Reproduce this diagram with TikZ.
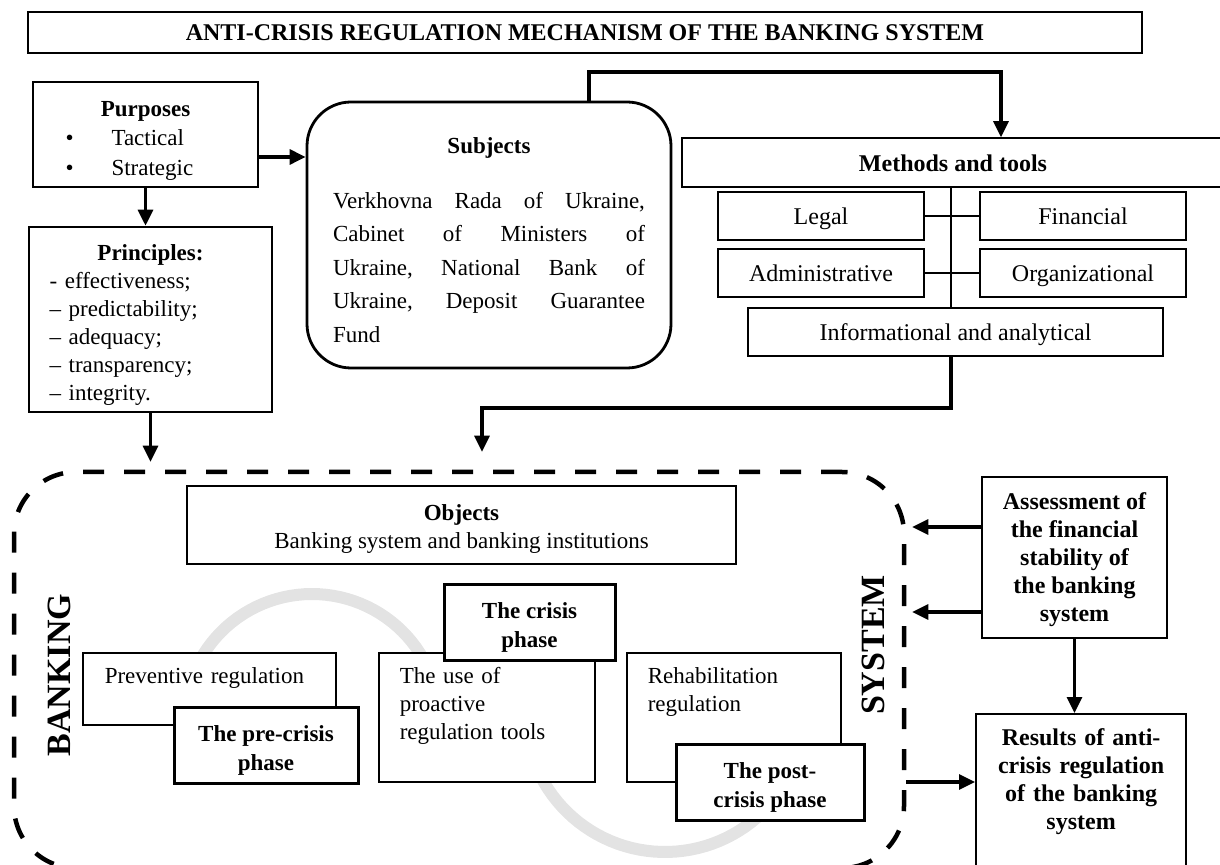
\documentclass[tikz,border=0pt]{standalone}
\usepackage{fontspec}
\setmainfont{Liberation Serif}
\usetikzlibrary{arrows.meta,positioning}
\newcommand{\fsz}[2]{\fontsize{#1}{#2}\selectfont}
\newcommand{\jline}[1]{\leavevmode\hbox to 156pt{#1}}
\newcommand{\dropline}[1][13pt]{\rule{0pt}{#1}}

\begin{document}
\begin{tikzpicture}[x=1pt,y=-1pt,on grid,
    plainbox/.style={draw, line width=0.75pt, fill=white, inner sep=0pt},
    heavybox/.style={draw, line width=1.3pt, fill=white, inner sep=0pt},
    tool/.style={plainbox, minimum width=103pt, minimum height=24pt, text height=11pt, text depth=2pt, font=\fsz{12}{14}},
    phase/.style={draw, line width=1.5pt, fill=white, inner sep=0pt, minimum height=38pt, align=center, font=\fsz{11.5}{14.5}\bfseries},
    regbox/.style={plainbox, inner xsep=10.5pt, inner ysep=0pt, text height=15.5pt, text depth=#1, align=left, font=\fsz{11.5}{14}},
    link/.style={line width=1.6pt, -{Triangle[length=8pt,width=7.5pt]}},
    tie/.style={line width=0.6pt},
    sline/.style={line width=6pt, draw=black!11},
    borderline/.style={draw, line width=2.25pt, dash pattern=on 10.5pt off 10pt, rounded corners=31pt},
  ]
		\useasboundingbox (0,0) rectangle (610,432.5);
		
		% --- Banking system area ---
		\node[borderline, minimum width=445pt, minimum height=198pt] (bsys) at (229.5,335) {};
		\draw[sline] plot[domain=170:360, samples=60] ({156+64*cos(\x)},{361+64*sin(\x)})
		  -- plot[domain=180:0, samples=60] ({332.5+70*cos(\x)},{356+70*sin(\x)});
		\node[rotate=90, font=\fsz{17}{20}\bfseries] (banking) at (29.5,337.5) {BANKING};
		\node[rotate=90, font=\fsz{17}{20}\bfseries] (system) at (436.5,322.5) {SYSTEM};
		
		% --- Top ---
		\node[plainbox, minimum width=557pt, minimum height=20.5pt, font=\fsz{12}{14}\bfseries] (title) at (292.5,16.25) {ANTI-CRISIS REGULATION MECHANISM OF THE BANKING SYSTEM};
		\node[heavybox, minimum width=112.5pt, minimum height=52.5pt, align=center, font=\fsz{11.5}{14.75}] (purposes) at (72.75,67.25)
		  {\dropline[13.5pt]\textbf{Purposes}\\ \makebox[80pt][l]{\textbullet\hspace{19pt}Tactical}\\ \makebox[80pt][l]{\textbullet\hspace{19pt}Strategic}};
		\node[heavybox, line width=1.4pt, rounded corners=22pt, minimum width=182pt, minimum height=133pt, text width=156pt, align=left, font=\fsz{11.5}{16.75}] (subjects) at (244.5,117.5)
		  {\makebox[156pt]{\dropline\textbf{Subjects}}\\[10.75pt]
		   \jline{Verkhovna\hfill Rada\hfill of\hfill Ukraine,}\\
		   \jline{Cabinet\hfill of\hfill Ministers\hfill of}\\
		   \jline{Ukraine,\hfill National\hfill Bank\hfill of}\\
		   \jline{Ukraine,\hfill Deposit\hfill Guarantee}\\
		   Fund};
		\node[heavybox, minimum width=121.5pt, minimum height=92.5pt, text width=101pt, align=left, font=\fsz{11.5}{14}] (principles) at (75.25,159.75)
		  {\makebox[101pt]{\dropline\textbf{Principles:}}\\ - effectiveness;\\ \textendash{} predictability;\\ \textendash{} adequacy;\\ \textendash{} transparency;\\ \textendash{} integrity.};
		
		% --- Methods and tools ---
		\node[plainbox, minimum width=271pt, minimum height=24.5pt, text height=11pt, text depth=2pt, font=\fsz{12}{14}\bfseries] (methods) at (476.5,81.25) {Methods and tools};
		\node[tool] (legal) at (410.5,108) {Legal};
		\node[tool] (financial) [right=131pt of legal] {Financial};
		\node[tool] (admin) [below=28.5pt of legal] {Administrative};
		\node[tool] (org) [right=131pt of admin] {Organizational};
		\node[tool, minimum width=207.5pt] (info) at (477.75,166) {Informational and analytical};
		\coordinate (spine) at (475.5,0);
		\draw[tie] (methods.south -| spine) -- (info.north -| spine);
		\draw[tie] (legal.east) -- (financial.west);
		\draw[tie] (admin.east) -- (org.west);
		
		% --- Inside the banking system ---
		\node[plainbox, line width=1pt, minimum width=274.5pt, minimum height=39pt, align=center, font=\fsz{11.5}{14}] (objects) at (230.75,262.5)
		  {\dropline[12pt]\textbf{Objects}\\Banking system and banking institutions};
		\node[regbox=20.5pt, text width=104.5pt, inner xsep=11pt, anchor=north west] (prev) at (41,326) {Preventive regulation};
		\node[regbox=49pt, text width=87pt, anchor=north west] (useof) at (189,326) {The use of\\proactive\\regulation tools};
		\node[regbox=49pt, text width=86pt, anchor=north west] (rehab) at (313,326) {Rehabilitation\\regulation};
		\node[phase, minimum width=92pt] (precrisis) at (133,372.5) {\dropline The pre-crisis\\phase};
		\node[phase, minimum width=85.5pt] (crisis) at (264.75,311) {\dropline The crisis\\phase};
		\node[phase, minimum width=94pt] (postcrisis) at (385,391) {\dropline The post-\\crisis phase};
		
		% --- Right column ---
		\node[draw, line width=1.1pt, fill=white, minimum width=92.5pt, minimum height=80.5pt, align=center, font=\fsz{12}{14}\bfseries] (assess) at (537.25,278.75)
		  {\dropline[11pt]Assessment of\\the financial\\stability of\\the banking\\system};
		\node[draw, line width=1.1pt, fill=white, text width=95pt, inner xsep=5pt, inner ysep=0pt, text height=15.5pt, text depth=73pt, align=center, font=\fsz{12}{14}\bfseries, anchor=north west] (results) at (487.5,356.5)
		  {Results of anti-\\crisis regulation\\of the banking\\system};
		
		% --- Arrows ---
		\coordinate (pArrow) at ([yshift=-11.25pt]purposes.east);
		\draw[link] (pArrow) -- (pArrow -| subjects.west);
		\draw[link] (purposes.south) -- (purposes.south |- principles.north);
		\draw[link, shorten >=4pt] (principles.south) -- (principles.south |- bsys.north);
		
		\coordinate (bendA) at (294.5,36);
		\coordinate (bendB) at (500.5,36);
		\draw[link] (subjects.north -| bendA) -- (bendA) -- (bendB) -- (bendB |- methods.north);
		
		\coordinate (bendC) at (475.5,204);
		\coordinate (bendD) at (241,204);
		\draw[link, shorten >=9pt] (info.south -| bendC) -- (bendC) -- (bendD) -- (bendD |- bsys.north);
		
		\coordinate (aHi) at ([yshift=15.25pt]assess.west);
		\coordinate (aLo) at ([yshift=-27.25pt]assess.west);
		\draw[link, shorten >=3pt] (aHi) -- (aHi -| bsys.east);
		\draw[link, shorten >=3pt] (aLo) -- (aLo -| bsys.east);
		\draw[link] (assess.south) -- (assess.south |- results.north);
		\coordinate (rowR) at (0,391);
		\draw[link] (bsys.east |- rowR) -- (results.west |- rowR);
	\end{tikzpicture}
\end{document}
